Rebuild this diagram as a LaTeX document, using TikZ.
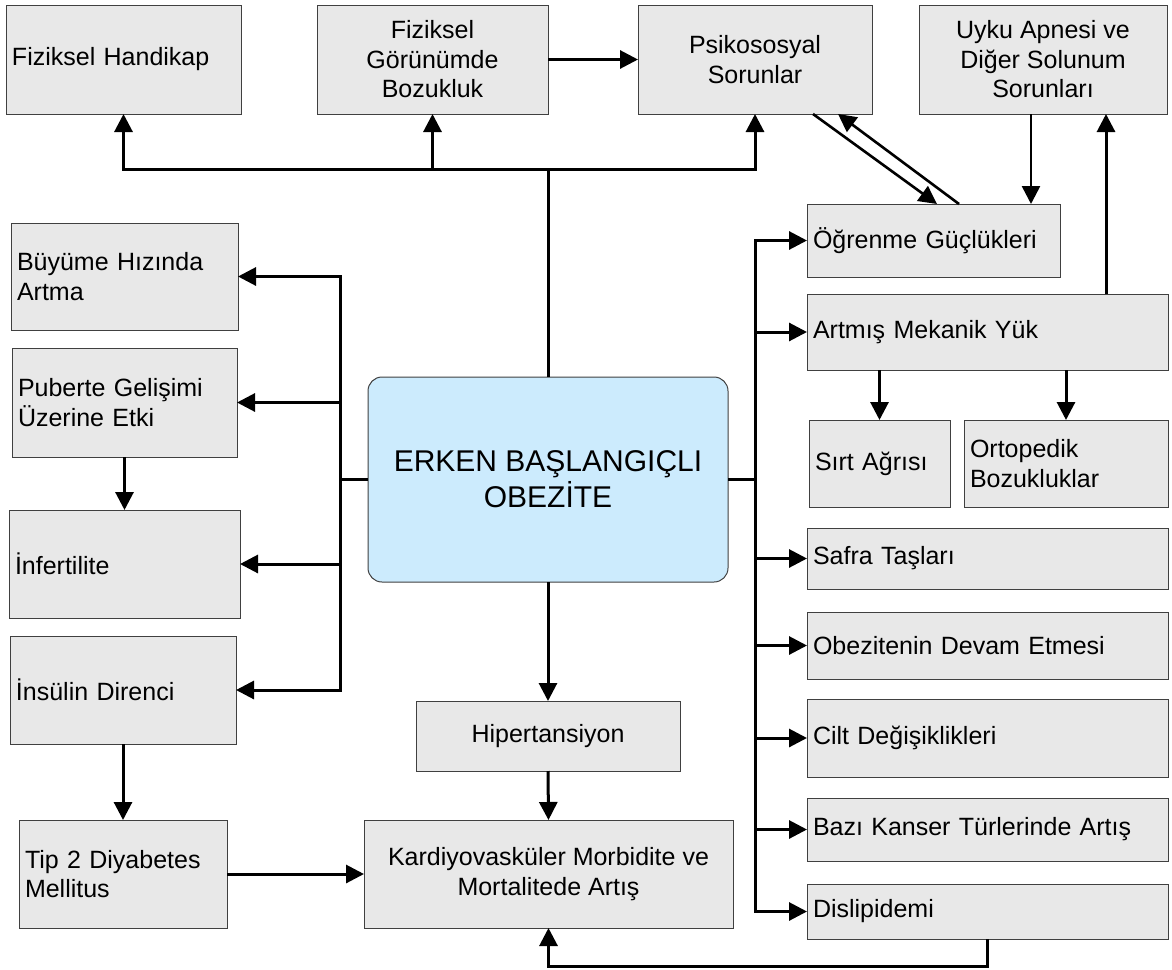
\documentclass[tikz,border=0pt]{standalone}
\usepackage{fontspec}
\setmainfont{Liberation Sans}
\usetikzlibrary{arrows.meta}
\definecolor{boxfill}{RGB}{232,232,232}
\definecolor{boxline}{RGB}{64,64,64}
\definecolor{centerfill}{RGB}{204,235,253}
\begin{document}
\begin{tikzpicture}[x=1pt,y=-1pt,
  box/.style={draw=boxline, fill=boxfill, line width=1pt, inner sep=0pt, outer sep=0pt, anchor=north west, font=\fontsize{25}{29.5}\selectfont},
  lbox/.style={box, align=left, inner xsep=6pt},
  cbox/.style={box, align=center},
  conn/.style={line width=3pt, draw=black},
  arr/.style={conn, -{Triangle[length=18pt,width=18pt]}},
  arrthin/.style={line width=2.6pt, draw=black, -{Triangle[length=18pt,width=18pt]}}]
\useasboundingbox (0,0) rectangle (1172,969);

% top row
\node[lbox, minimum width=235pt, minimum height=109pt, text width=223pt] (FH) at (6,5) {Fiziksel Handikap};
\node[cbox, minimum width=231pt, minimum height=109pt] (FG) at (317,5) {Fiziksel\\Görünümde\\Bozukluk};
\node[cbox, minimum width=234pt, minimum height=109pt] (PS) at (638,5) {Psikososyal\\Sorunlar};
\node[cbox, minimum width=248pt, minimum height=109pt] (UY) at (919,5) {Uyku Apnesi ve\\Diğer Solunum\\Sorunları};

% center
\node[box, fill=centerfill, rounded corners=14pt, align=center, minimum width=360pt, minimum height=205pt, font=\fontsize{30}{36}\selectfont] (C) at (368,377) {ERKEN BAŞLANGIÇLI\\OBEZİTE};

% left column
\node[lbox, minimum width=227pt, minimum height=107pt, text width=215pt] (BY) at (11,223) {Büyüme Hızında\\Artma};
\node[lbox, minimum width=225pt, minimum height=109pt, text width=213pt] (PB) at (12,348) {Puberte Gelişimi\\Üzerine Etki};
\node[lbox, minimum width=231pt, minimum height=108pt, text width=219pt] (IN) at (9,510) {İnfertilite};
\node[lbox, minimum width=226pt, minimum height=108pt, text width=214pt] (IS) at (10,636) {İnsülin Direnci};
\node[lbox, minimum width=208pt, minimum height=108pt, text width=196pt] (T2) at (19,820) {Tip 2 Diyabetes\\Mellitus};

% middle bottom
\node[cbox, minimum width=264pt, minimum height=70pt] (HP) at (416,701) {Hipertansiyon};
\node[cbox, minimum width=369pt, minimum height=108pt] (KV) at (364,820) {Kardiyovasküler Morbidite ve\\Mortalitede Artış};

% right column
\node[lbox, minimum width=253pt, minimum height=73pt, text width=241pt] (OG) at (807,204) {Öğrenme Güçlükleri};
\node[lbox, minimum width=361pt, minimum height=76pt, text width=349pt] (AM) at (807,294) {Artmış Mekanik Yük};
\node[lbox, minimum width=141pt, minimum height=87pt, text width=129pt] (SA) at (809,420) {Sırt Ağrısı};
\node[lbox, minimum width=204pt, minimum height=87pt, text width=192pt] (OR) at (964,420) {Ortopedik\\Bozukluklar};
\node[lbox, minimum width=361pt, minimum height=61pt, text width=349pt] (SF) at (807,528) {Safra Taşları};
\node[lbox, minimum width=361pt, minimum height=67pt, text width=349pt] (OD) at (807,612) {Obezitenin Devam Etmesi};
\node[lbox, minimum width=361pt, minimum height=78pt, text width=349pt] (CD) at (807,699) {Cilt Değişiklikleri};
\node[lbox, minimum width=361pt, minimum height=63pt, text width=349pt] (BK) at (807,798) {Bazı Kanser Türlerinde Artış};
\node[lbox, minimum width=361pt, minimum height=55pt, text width=349pt] (DL) at (807,884) {Dislipidemi};

% helper coordinates
\coordinate (tj) at (548,169);
\coordinate (lt) at (340,0);
\coordinate (rt) at (755,0);
\coordinate (bl) at (0,966);
\coordinate (u1) at (1031,0);
\coordinate (u2) at (1106,0);
\coordinate (d1) at (813,0);
\coordinate (d2) at (937,0);
\coordinate (d3) at (959,0);
\coordinate (d4) at (838,0);

% top connectors
\draw[conn] (C.north) -- (C.north |- tj);
\draw[arr] (FG.south |- tj) -- (FH.south |- tj) -- (FH.south);
\draw[arr] (FG.south |- tj) -- (PS.south |- tj) -- (PS.south);
\draw[arr] (FG.south |- tj) -- (FG.south);
\draw[arr] (FG.east) -- (PS.west);

% diagonals between Psikososyal and Ogrenme
\draw[arrthin] (PS.south -| d1) -- (OG.north -| d2);
\draw[arrthin] (OG.north -| d3) -- (PS.south -| d4);

% Uyku connectors
\draw[arrthin] (UY.south -| u1) -- (OG.north -| u1);
\draw[arr] (AM.north -| u2) -- (UY.south -| u2);

% right trunk
\draw[conn] (C.east) -- (C.east -| rt);
\draw[arr] (rt |- C.east) -- (rt |- OG.west) -- (OG.west);
\draw[arr] (rt |- C.east) -- (rt |- DL.west) -- (DL.west);
\draw[arr] (rt |- AM.west) -- (AM.west);
\draw[arr] (rt |- SF.west) -- (SF.west);
\draw[arr] (rt |- OD.west) -- (OD.west);
\draw[arr] (rt |- CD.west) -- (CD.west);
\draw[arr] (rt |- BK.west) -- (BK.west);
\draw[arr] (AM.south -| SA.north) -- (SA.north);
\draw[arr] (AM.south -| OR.north) -- (OR.north);

% left trunk
\draw[conn] (C.west) -- (C.west -| lt);
\draw[arr] (lt |- C.west) -- (lt |- BY.east) -- (BY.east);
\draw[arr] (lt |- C.west) -- (lt |- IS.east) -- (IS.east);
\draw[arr] (lt |- PB.east) -- (PB.east);
\draw[arr] (lt |- IN.east) -- (IN.east);
\draw[arr] (PB.south) -- (IN.north);
\draw[arr] (IS.south) -- (T2.north);

% bottom
\draw[arr] (C.south) -- (HP.north);
\draw[arr] (HP.south) -- (KV.north);
\draw[arr] (T2.east) -- (KV.west);
\draw[arr] (DL.south) -- (DL.south |- bl) -- (KV.south |- bl) -- (KV.south);
\end{tikzpicture}
\end{document}
